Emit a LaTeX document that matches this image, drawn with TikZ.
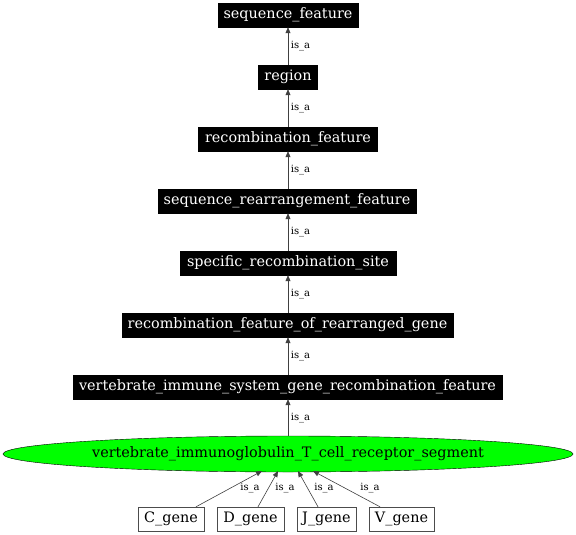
\documentclass[tikz,border=0pt]{standalone}
\usepackage{fontspec}
\setmainfont{DejaVu Serif}
\usetikzlibrary{shapes.geometric,arrows.meta}
\begin{document}
\begin{tikzpicture}[x=1pt,y=-1pt,
  blk/.style={draw=black,fill=black,text=white,font=\fontsize{14.4}{16}\selectfont,inner sep=0pt,minimum height=24pt,rectangle},
  wht/.style={draw=black!70,fill=white,text=black,font=\fontsize{14.4}{16}\selectfont,inner sep=0pt,minimum height=24pt,rectangle},
  isa/.style={draw=black!75,line width=0.6pt,-{Triangle[length=6pt,width=5pt]}},
  lbl/.style={font=\fontsize{10}{11}\selectfont,text=black,inner sep=0pt}]
\useasboundingbox (0,0) rectangle (576,535);
\node[blk,minimum width=140pt] (sf) at (288,15) {sequence\_feature};
\node[blk,minimum width=59pt] (rg) at (288,77) {region};
\node[blk,minimum width=179pt] (rf) at (288,139) {recombination\_feature};
\node[blk,minimum width=258pt] (srf) at (287,201) {sequence\_rearrangement\_feature};
\node[blk,minimum width=216pt] (srs) at (288,263) {specific\_recombination\_site};
\node[blk,minimum width=331pt] (rfg) at (287.5,325) {recombination\_feature\_of\_rearranged\_gene};
\node[blk,minimum width=429pt] (vis) at (287.5,387) {vertebrate\_immune\_system\_gene\_recombination\_feature};
\node[ellipse,draw=black,fill=green,inner sep=0pt,minimum width=570pt,minimum height=36pt,font=\fontsize{14.4}{16}\selectfont] (vit) at (288,454) {vertebrate\_immunoglobulin\_T\_cell\_receptor\_segment};
\node[wht,minimum width=66pt] (cg) at (171,519) {C\_gene};
\node[wht,minimum width=67pt] (dg) at (250.5,519) {D\_gene};
\node[wht,minimum width=59pt] (jg) at (326.5,519) {J\_gene};
\node[wht,minimum width=65pt] (vg) at (401.5,519) {V\_gene};
\draw[isa] (rg) -- (sf) node[lbl,midway,right=2.5pt] {is\_a};
\draw[isa] (rf) -- (rg) node[lbl,midway,right=2.5pt] {is\_a};
\draw[isa] (srf.north -| rf) -- (rf) node[lbl,midway,right=2.5pt] {is\_a};
\draw[isa] (srs) -- (srf.south -| srs) node[lbl,midway,right=2.5pt] {is\_a};
\draw[isa] (rfg.north -| srs) -- (srs) node[lbl,midway,right=2.5pt] {is\_a};
\draw[isa] (vis.north -| srs) -- (rfg.south -| srs) node[lbl,midway,right=2.5pt] {is\_a};
\draw[isa] (vit.north) -- (vis.south -| vit.north) node[lbl,midway,right=2.5pt] {is\_a};
\coordinate (ec) at (262,471);
\coordinate (ed) at (278,471);
\coordinate (ej) at (298,471);
\coordinate (ev) at (313,471);
\draw[isa] (cg.north -| 196,0) -- (ec);
\draw[isa] (dg.north -| 258,0) -- (ed);
\draw[isa] (jg.north -| 318,0) -- (ej);
\draw[isa] (vg.north -| 380,0) -- (ev);
\node[lbl] (l1) at (250,488) {is\_a};
\node[lbl] (l2) at (285,488) {is\_a};
\node[lbl] (l3) at (324,488) {is\_a};
\node[lbl] (l4) at (370,488) {is\_a};
\end{tikzpicture}
\end{document}
